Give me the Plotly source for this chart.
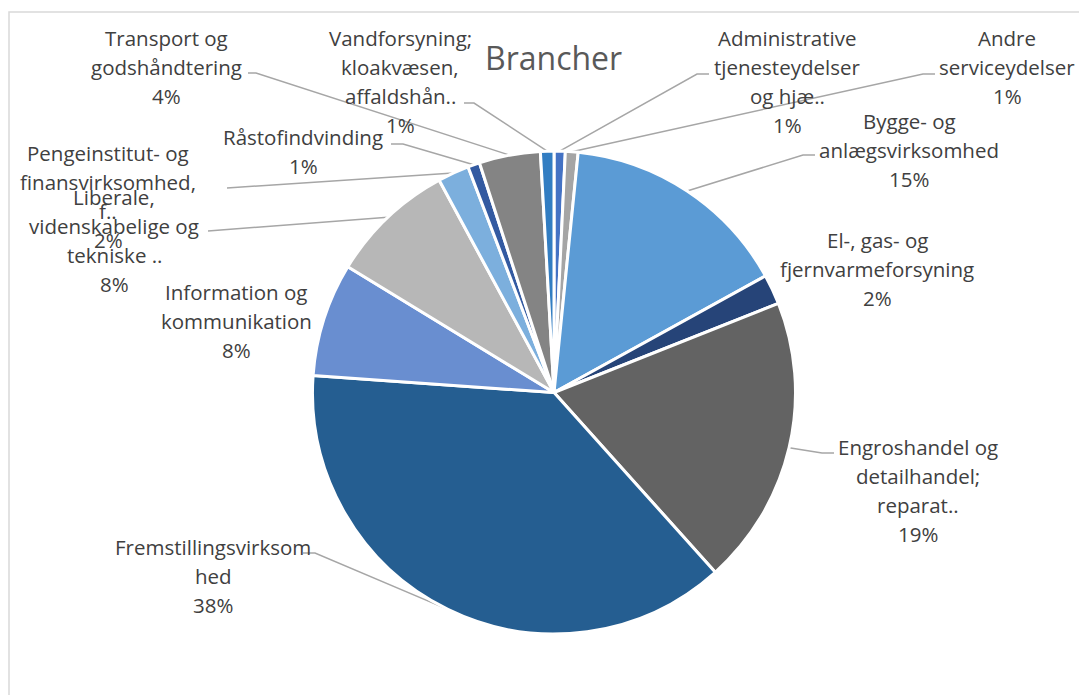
import numpy as np
import plotly.graph_objects as go

# ---------------- data ----------------
categories = [
    "Administrative\ntjenesteydelser\nog hjæ..",
    "Andre\nserviceydelser",
    "Bygge- og\nanlægsvirksomhed",
    "El-, gas- og\nfjernvarmeforsyning",
    "Engroshandel og\ndetailhandel;\nreparat..",
    "Fremstillingsvirksom\nhed",
    "Information og\nkommunikation",
    "Liberale,\nvidenskabelige og\ntekniske ..",
    "Pengeinstitut- og\nfinansvirksomhed,\nf..",
    "Råstofindvinding",
    "Transport og\ngodshåndtering",
    "Vandforsyning;\nkloakvæsen,\naffaldshån..",
]
values = [0.75, 0.85, 15.4, 2.0, 19.4, 37.8, 7.6, 8.4, 2.1, 0.8, 4.1, 0.9]
colors = ["#4472C4", "#A5A5A5", "#5B9BD5", "#264478", "#636363", "#255E91",
          "#698ED0", "#B7B7B7", "#7CAFDD", "#335AA1", "#848484", "#327DC2"]
title_text = "Brancher"

# ---------------- layout constants ----------------
VW, VH = 1087, 695          # browser viewport
OFF = 8                     # default page body margin
W, H = VW - OFF, VH - OFF   # figure size
CX, CY, R = 554, 392.5, 241.5   # pie centre/radius in viewport pixels
FONT = "Open Sans"
LBL_SIZE = 20.5
LINE_GAP = 29
TXT_COL = "#404040"
LEAD_COL = "#A6A6A6"

# label placement (viewport px): (center x, first line y, leader elbow, leader end)
label_pos = [
    (787, 38, (697, 74), (709, 74)),
    (1007, 38, (923, 74), (935, 74)),
    (909, 121, (803, 155), (815, 155)),
    (877, 240, None, None),
    (918, 447, (822, 453), (834, 453)),
    (213, 547, (315, 553), (303, 553)),
    (236, 292, None, None),
    (114, 197, (211, 231), (208, 231)),
    (108, 153, (232, 188), (227, 188)),
    (303, 137, (403, 144), (391, 144)),
    (166, 38, (256, 73), (248, 73)),
    (400, 38, (474, 103), (464, 103)),
]

fig = go.Figure()

fig.add_trace(go.Pie(
    labels=[c.replace("\n", " ") for c in categories],
    values=values,
    sort=False,
    direction="clockwise",
    rotation=0,
    marker=dict(colors=colors, line=dict(color="white", width=3)),
    textinfo="none",
    hoverinfo="label+percent",
    showlegend=False,
    domain=dict(x=[(CX - R - OFF) / W, (CX + R - OFF) / W],
                y=[1 - (CY + R - OFF) / H, 1 - (CY - R - OFF) / H]),
))

total = float(sum(values))
cum = np.cumsum([0] + values)
annotations = []
for i, cat in enumerate(categories):
    frac_mid = (cum[i] + cum[i + 1]) / 2 / total
    th = 2 * np.pi * frac_mid
    sx, sy = CX + R * np.sin(th), CY - R * np.cos(th)
    lx, ly, elbow, end = label_pos[i]
    if elbow is not None:
        fig.add_trace(go.Scatter(
            x=[sx, elbow[0], end[0]], y=[sy, elbow[1], end[1]],
            mode="lines", line=dict(color=LEAD_COL, width=1.5),
            hoverinfo="skip", showlegend=False, xaxis="x", yaxis="y"))
    lines = cat.split("\n") + [f"{round(values[i] / total * 100):.0f}%"]
    for k, t in enumerate(lines):
        annotations.append(dict(
            x=lx, y=ly + k * LINE_GAP, xref="x", yref="y", text=t,
            showarrow=False, xanchor="center", yanchor="middle",
            font=dict(family=FONT, size=LBL_SIZE, color=TXT_COL)))

annotations.append(dict(
    x=553, y=57, xref="x", yref="y", text=title_text, showarrow=False,
    xanchor="center", yanchor="middle",
    font=dict(family=FONT, size=32, color="#595959")))

fig.update_layout(
    width=W, height=H,
    margin=dict(l=0, r=0, t=0, b=0),
    paper_bgcolor="white", plot_bgcolor="rgba(0,0,0,0)",
    xaxis=dict(range=[OFF, VW], visible=False, fixedrange=True, domain=[0, 1]),
    yaxis=dict(range=[VH, OFF], visible=False, fixedrange=True, domain=[0, 1]),
    annotations=annotations,
    shapes=[dict(type="rect", xref="x", yref="y", x0=9, y0=12, x1=VW + 20, y1=VH + 20,
                 line=dict(color="#D9D9D9", width=1.5), layer="below")],
    showlegend=False,
)

fig.write_html("out.html")
